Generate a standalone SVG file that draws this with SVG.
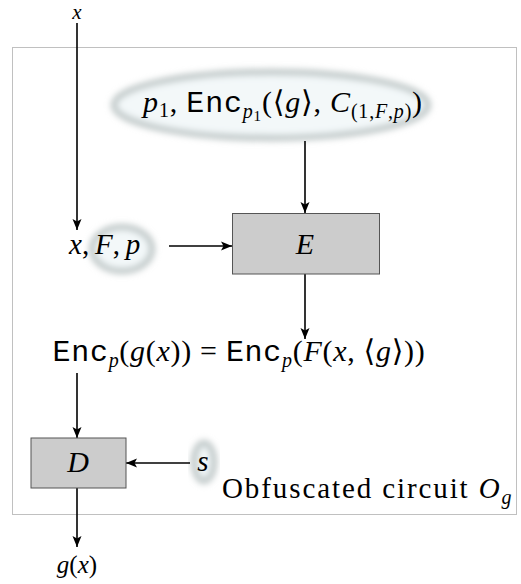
<svg xmlns="http://www.w3.org/2000/svg" width="521" height="584" viewBox="0 0 521 584">
<style>
.m{font-family:"Liberation Serif","DejaVu Serif",serif;font-style:italic;fill:#000}
.r{font-family:"Liberation Serif","DejaVu Serif",serif;font-style:normal;fill:#000}
.tt{font-family:"Liberation Mono","DejaVu Sans Mono",monospace;font-style:normal}
.box{fill:#cccccc;stroke:#555;stroke-width:1}
.glow{fill:#f3f8f9;stroke:#bcc5c5;stroke-width:6;filter:url(#blur)}
.ln{stroke:#000;stroke-width:1.6;fill:none;marker-end:url(#ah)}
</style>
<defs>
<filter id="blur" x="-30%" y="-30%" width="160%" height="160%"><feGaussianBlur stdDeviation="3"/></filter>
<marker id="ah" markerUnits="userSpaceOnUse" markerWidth="12" markerHeight="10" refX="11" refY="5" orient="auto">
<path d="M0,0.5 L11,5 L0,9.5 L2.5,5 z" fill="#000"/>
</marker>
</defs>
<rect width="521" height="584" fill="#fff"/>
<rect id="frame" x="12.5" y="47.5" width="504" height="467" fill="none" stroke="#c0c0c0" stroke-width="1"/>

<g id="glow-top"><ellipse class="glow" cx="271" cy="105" rx="157" ry="33"/></g>
<g id="glow-Fp"><ellipse class="glow" cx="122" cy="249" rx="30" ry="22"/></g>
<g id="glow-s"><ellipse class="glow" cx="204" cy="462" rx="10" ry="19"/></g>

<g id="connectors">
<line class="ln" x1="77" y1="23" x2="77" y2="230"/>
<line class="ln" x1="169" y1="246" x2="232" y2="246"/>
<line class="ln" x1="305" y1="141" x2="305" y2="213"/>
<line class="ln" x1="305" y1="274" x2="305" y2="339"/>
<line class="ln" x1="77" y1="373" x2="77" y2="438"/>
<line class="ln" x1="190" y1="463" x2="126" y2="463"/>
<line class="ln" x1="77" y1="488" x2="77" y2="547"/>
</g>

<g id="node-x"><text class="m" x="77" y="19" font-size="21" text-anchor="middle">x</text></g>

<g id="node-top"><text class="m" x="283" y="112" font-size="30" letter-spacing="0.8" text-anchor="middle">p<tspan class="r" font-size="20" dy="5">1</tspan><tspan class="r" dy="-5">, </tspan><tspan class="tt">Enc</tspan><tspan font-size="20" dy="6">p</tspan><tspan class="r" font-size="15" dy="3">1</tspan><tspan class="r" dy="-9">(⟨</tspan>g<tspan class="r">⟩, </tspan>C<tspan font-size="20" dy="6"><tspan class="r">(1,</tspan>F<tspan class="r">,</tspan>p<tspan class="r">)</tspan></tspan><tspan class="r" dy="-6">)</tspan></text></g>

<g id="node-xFp"><text class="m" x="69" y="254" font-size="29">x<tspan class="r">,&#8201;</tspan>F<tspan class="r">,&#8201;</tspan>p</text></g>

<g id="node-E"><rect class="box" x="232.5" y="213.5" width="147" height="60.5"/><text class="m" x="305" y="254" font-size="30" text-anchor="middle">E</text></g>

<g id="node-eq"><text class="m" x="239" y="361" font-size="30" letter-spacing="0.7" text-anchor="middle"><tspan class="tt">Enc</tspan><tspan font-size="20" dy="6">p</tspan><tspan class="r" dy="-6">(</tspan>g<tspan class="r">(</tspan>x<tspan class="r">)) = </tspan><tspan class="tt">Enc</tspan><tspan font-size="20" dy="6">p</tspan><tspan class="r" dy="-6">(</tspan>F<tspan class="r">(</tspan>x<tspan class="r">, ⟨</tspan>g<tspan class="r">⟩))</tspan></text></g>

<g id="node-D"><rect class="box" x="31" y="438" width="95" height="50"/><text class="m" x="78" y="472" font-size="30" text-anchor="middle">D</text></g>

<g id="node-s"><text class="m" x="203" y="471" font-size="29" text-anchor="middle">s</text></g>

<g id="label-obf"><text class="r" x="222" y="498" font-size="29" letter-spacing="1.9">Obfuscated circuit <tspan class="m">O</tspan><tspan class="m" font-size="20" dy="6">g</tspan></text></g>

<g id="node-gx"><text class="m" x="77" y="573" font-size="25" text-anchor="middle">g<tspan class="r">(</tspan>x<tspan class="r">)</tspan></text></g>
</svg>
